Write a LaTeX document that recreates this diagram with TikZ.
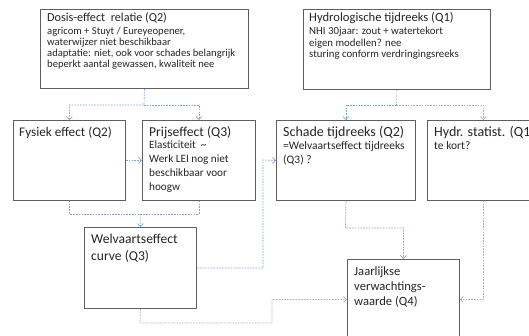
\documentclass[tikz,border=0pt]{standalone}
\usepackage{fontspec}
\setmainfont{Carlito}
\usetikzlibrary{arrows.meta}
\definecolor{boxline}{RGB}{95,95,95}
\definecolor{ink}{RGB}{38,38,38}
\definecolor{flowblue}{RGB}{125,165,215}
\definecolor{flowgray}{RGB}{175,175,175}
\tikzset{
  x=1pt, y=-1pt,
  box/.style={draw=boxline, line width=0.9pt, fill=white, anchor=north west,
    inner sep=0pt, minimum width=#1},
  txt/.style={anchor=north west, inner sep=0pt, align=left, text=ink},
  flow/.style={line width=0.7pt, dash pattern=on 1.6pt off 1.2pt},
  blueflow/.style={flow, draw=flowblue},
  grayflow/.style={flow, draw=flowgray},
  tip/.style={-{Straight Barb[length=3pt,width=6pt,line width=0.7pt]}},
}
\begin{document}
\begin{tikzpicture}
\useasboundingbox (0,0) rectangle (529,336);
\clip (0,0) rectangle (529,336);

% boxes
\node[box=208pt, minimum height=79pt] (dosis)  at (40,9)   {};
\node[box=187pt, minimum height=80pt] (hydro)  at (303,9)  {};
\node[box=112pt, minimum height=80pt] (fysiek) at (13,120) {};
\node[box=113pt, minimum height=80pt] (prijs)  at (142,120) {};
\node[box=139pt, minimum height=80pt] (schade) at (276,120) {};
\node[box=112pt, minimum height=80pt] (hstat)  at (427,120) {};
\node[box=112pt, minimum height=81pt] (welv)   at (84,227) {};
\node[box=112pt, minimum height=80pt] (jaar)   at (347,259) {};

% box texts
\node[txt, font=\fontsize{12.2}{14}\selectfont] (dosisT) at (47,12)
  {Dosis-effect\ \ relatie (Q2)};
\node[txt, font=\fontsize{10.6}{11}\selectfont] (dosisB) at (47,27.3)
  {agricom + Stuyt / Eureyeopener,\\ waterwijzer niet beschikbaar\\
   adaptatie: niet, ook voor schades belangrijk\\ beperkt aantal gewassen, kwaliteit nee};
\node[txt, font=\fontsize{12.6}{14}\selectfont] (hydroT) at (309,12)
  {Hydrologische tijdreeks (Q1)};
\node[txt, font=\fontsize{10.8}{11.2}\selectfont] (hydroB) at (309,27.3)
  {NHI 30jaar: zout + watertekort\\ eigen modellen? nee\\ sturing conform verdringingsreeks};
\node[txt, font=\fontsize{13.2}{16}\selectfont] (fysiekT) at (19,126.5)
  {Fysiek effect (Q2)};
\node[txt, font=\fontsize{13.6}{16}\selectfont] (prijsT) at (149,126.5)
  {Prijseffect (Q3)};
\node[txt, font=\fontsize{11.2}{14}\selectfont] (prijsB) at (149,141)
  {Elasticiteit\ \ \textasciitilde\\ Werk LEI nog niet\\ beschikbaar voor\\ hoogw};
\node[txt, font=\fontsize{14}{16}\selectfont] (schadeT) at (283,126.5)
  {Schade tijdreeks (Q2)};
\node[txt, font=\fontsize{11.5}{14}\selectfont] (schadeB) at (283,141)
  {=Welvaartseffect tijdreeks\\ (Q3) ?};
\node[txt, font=\fontsize{14}{16}\selectfont] (hstatT) at (434,126.5)
  {Hydr. statist. (Q1)};
\node[txt, font=\fontsize{11.5}{14}\selectfont] (hstatB) at (434,141)
  {te kort?};
\node[txt, font=\fontsize{13.6}{16.5}\selectfont] (welvT) at (91,234)
  {Welvaartseffect\\ curve (Q3)};
\node[txt, font=\fontsize{12.6}{15}\selectfont] (jaarT) at (354,266.5)
  {Jaarlijkse\\ verwachtings-\\ waarde (Q4)};

% connectors
\coordinate (dsplit) at (144,105);
\draw[blueflow, tip] (dosis.south) -- (dsplit) -| (fysiek.north);
\draw[blueflow, tip] (dsplit) -| (prijs.north);
\draw[blueflow, tip] (fysiek.east) -- (prijs.west);

\coordinate (pmerge) at (140,214);
\draw[blueflow] (fysiek.south) |- (pmerge);
\draw[blueflow] (prijs.south) |- (pmerge);
\draw[blueflow, tip] (pmerge) -- (welv.north);

\coordinate (wturn) at (263,160);
\draw[blueflow, tip] (welv.east) -| (wturn) -- (schade.west);

\coordinate (hsplit) at (396.5,105);
\draw[grayflow] (hydro.south) -- (hsplit);
\draw[blueflow, tip] (hsplit) -| (schade.north);
\draw[grayflow, tip] (hsplit) -| (hstat.north);

\coordinate (sturn) at (345.5,228);
\draw[blueflow, tip] (schade.south) -- (sturn) -| (jaar.north);

\draw[grayflow, tip] (hstat.south) |- (jaar.east);

\coordinate (wdown) at (140,323);
\coordinate (wup) at (272,323);
\draw[grayflow, tip] (welv.south) -- (wdown) -- (wup) |- (jaar.west);
\end{tikzpicture}
\end{document}
